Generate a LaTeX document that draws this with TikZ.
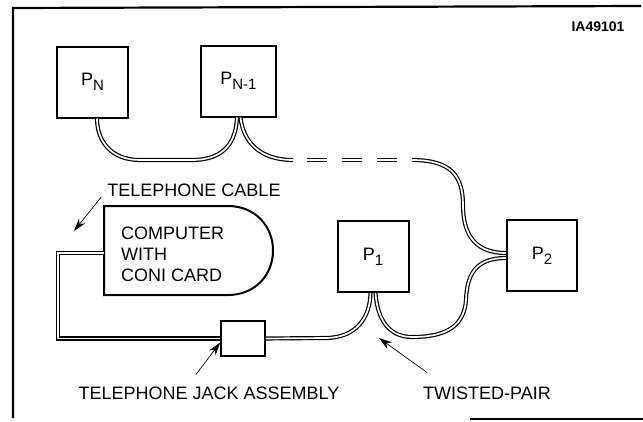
\documentclass[tikz,border=0pt]{standalone}
\usepackage{fontspec}
\setmainfont{Liberation Sans}
\usetikzlibrary{arrows.meta,positioning}
\tikzset{
  unit/.style={draw=black, line width=2pt, minimum width=71pt, minimum height=71pt, inner sep=0pt, font=\fontsize{18}{18}\selectfont},
  jackbox/.style={draw=black, line width=1.6pt, minimum width=44pt, minimum height=35pt, inner sep=0pt},
  cable/.style={draw=black, line width=1.2pt, double=white, double distance=1.7pt},
  callout/.style={font=\fontsize{18}{21}\selectfont, inner sep=0pt},
  pointer/.style={-{Stealth[length=13pt, width=8pt]}, line width=0.7pt},
  frame/.style={line width=2.2pt}
}
\newcommand{\psub}[1]{P\raisebox{-0.5ex}{\fontsize{15}{15}\selectfont #1}}

\begin{document}
\begin{tikzpicture}[x=1pt, y=-1pt]
  \useasboundingbox (0,0) rectangle (643,421);
  % outer frame (partly open)
  \draw[frame] (13,418) -- (13,8) -- (641,6);
  \draw[line width=1.5pt] (470,419) -- (643,419);
  \node[font=\fontsize{14}{14}\selectfont\bfseries, inner sep=0pt] (fig) at (598,27) {IA49101};

  % stations
  \node[unit] (pn) at (92.5,82) {\psub{N}};
  \node[unit, minimum width=75pt] (pn1) at (238.5,81) {\psub{N-1}};
  \node[unit] (p1) at (373,256.5) {\psub{1}};
  \node[unit, minimum width=70pt] (p2) at (542,255.5) {\psub{2}};
  \node[jackbox] (jack) at (243,338.5) {};

  % computer
  \draw[line width=2pt] (104,206) -- (228,206) .. controls (255,206) and (273,226) .. (273,250.5)
    .. controls (273,275) and (255,295) .. (228,295) -- (104,295) -- cycle;
  \node[callout, align=left, anchor=west] (comp) at (121,254) {COMPUTER\\WITH\\CONI CARD};
  \coordinate (compin) at (104,253);

  % cables
  \coordinate (brkl) at (293,160);
  \coordinate (brkr) at (412,160);
  \draw[cable] ([xshift=4.5pt]pn.south) .. controls (97,140) and (110,160) .. (140,160) -- (192,160)
    .. controls (226,160) and (236,140) .. ([xshift=-1.5pt]pn1.south);
  \draw[cable] ([xshift=2pt]pn1.south) .. controls (243,140) and (258,160) .. (brkl);
  \draw[cable, dash pattern=on 20pt off 15pt] ([xshift=14pt]brkl) -- ([xshift=-14pt]brkr);
  \draw[cable] (brkr) .. controls (450,160) and (463,175) .. (463,205)
    .. controls (463,238) and (478,253) .. ([yshift=2.5pt]p2.west);
  \draw[cable] ([yshift=-2.5pt]p2.west) .. controls (475,258) and (467,275) .. (466,300)
    .. controls (464,330) and (440,337) .. (412,337)
    .. controls (386,337) and (377,315) .. ([xshift=2.5pt]p1.south);
  \draw[cable] ([xshift=-2.5pt]p1.south) .. controls (370,318) and (356,338) .. (325,338) -- (jack.east);
  \draw[cable] (jack.west) -| (58,253) -- (compin);

  % labels and pointers
  \node[callout] (lblcable) at (194,190) {TELEPHONE CABLE};
  \node[callout] (lbljack) at (209,393) {TELEPHONE JACK ASSEMBLY};
  \node[callout] (lbltwist) at (487,393) {TWISTED-PAIR};
  \coordinate (cabletip) at (74,231);
  \coordinate (twisttip) at (379,338);
  \draw[pointer] ([shift={(-6pt,-7pt)}]lblcable.west) -- (cabletip);
  \draw[pointer] ([shift={(-13pt,12pt)}]lbljack.north) -- ([yshift=-4pt]jack.west);
  \draw[pointer] ([shift={(4pt,14pt)}]lbltwist.north west) -- (twisttip);
\end{tikzpicture}
\end{document}
